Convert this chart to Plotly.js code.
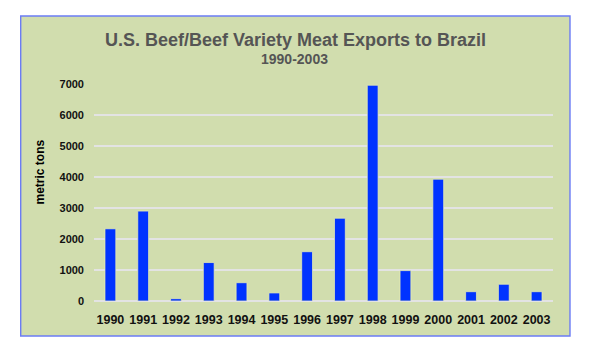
<!DOCTYPE html>
<html>
<head>
<meta charset="utf-8">
<script src="https://cdn.plot.ly/plotly-3.0.1.min.js"></script>
<style>html,body{margin:0;padding:0;background:#fff;}#chart{width:595px;height:362px;}</style>
</head>
<body>
<div id="chart"></div>
<script>
const years = ['1990','1991','1992','1993','1994','1995','1996','1997','1998','1999','2000','2001','2002','2003'];
const exportsTons = [2330, 2900, 75, 1240, 590, 260, 1590, 2670, 6960, 980, 3930, 300, 540, 300];
const yTicks = [0, 1000, 2000, 3000, 4000, 5000, 6000, 7000];

const W = 595, H = 362;
const M = {l: 94, r: 42, t: 84, b: 61};
const pw = W - M.l - M.r, ph = H - M.t - M.b;
const px = x => (x - M.l) / pw;
const py = y => (H - M.b - y) / ph;

// choose a narrow font for x labels if available
function hasFont(name) {
  const c = document.createElement('canvas').getContext('2d');
  c.font = 'bold 40px monospace';
  const a = c.measureText('1990 abcmwi').width;
  c.font = 'bold 40px "' + name + '", monospace';
  const b = c.measureText('1990 abcmwi').width;
  return Math.abs(a - b) > 0.5;
}
const narrow = hasFont('Liberation Sans Narrow');
const xFont = narrow
  ? {family: '"Liberation Sans Narrow", sans-serif', size: 15, color: '#111', weight: 'bold'}
  : {family: 'Liberation Sans, Arial, sans-serif', size: 12.5, color: '#111', weight: 'bold'};

const trace = {
  type: 'bar',
  x: years,
  y: exportsTons,
  marker: {color: '#0033ff', line: {color: 'rgba(235,240,180,0.9)', width: 0.8}},
  hoverinfo: 'x+y'
};

const layout = {
  width: W, height: H,
  margin: M,
  paper_bgcolor: '#ffffff',
  plot_bgcolor: 'rgba(0,0,0,0)',
  showlegend: false,
  bargap: 0.67,
  font: {family: 'Liberation Sans, Arial, sans-serif', color: '#000'},
  xaxis: {
    type: 'category',
    showgrid: false, zeroline: false, showline: false,
    ticks: '',
    tickangle: 0,
    ticklabelstandoff: 9,
    tickfont: xFont
  },
  yaxis: {
    range: [0, 7000],
    tickvals: yTicks,
    ticktext: yTicks.map(String),
    showgrid: true, gridcolor: '#e3e3e3', gridwidth: 1.3,
    zeroline: true, zerolinecolor: '#e3e3e3', zerolinewidth: 1.3,
    showline: false, ticks: '',
    ticklabelstandoff: 9,
    tickfont: {family: 'Liberation Sans, Arial, sans-serif', size: 11, color: '#111', weight: 'bold'}
  },
  shapes: [{
    type: 'rect', xref: 'paper', yref: 'paper', layer: 'below',
    x0: px(20.7), x1: px(570), y0: py(336), y1: py(16),
    fillcolor: '#d1ddae',
    line: {color: '#6b7cf5', width: 1.4}
  }],
  annotations: [
    {text: 'U.S. Beef/Beef Variety Meat Exports to Brazil', xref: 'paper', yref: 'paper',
     x: px(295), y: py(39.5), xanchor: 'center', yanchor: 'middle', showarrow: false,
     font: {family: 'Liberation Sans, Arial, sans-serif', size: 18, color: '#555555', weight: 'bold'}},
    {text: '1990-2003', xref: 'paper', yref: 'paper',
     x: px(294), y: py(58.5), xanchor: 'center', yanchor: 'middle', showarrow: false,
     font: {family: 'Liberation Sans, Arial, sans-serif', size: 14, color: '#555555', weight: 'bold'}},
    {text: 'metric tons', xref: 'paper', yref: 'paper', textangle: -90,
     x: px(39.5), y: py(172), xanchor: 'center', yanchor: 'middle', showarrow: false,
     font: {family: 'Liberation Sans, Arial, sans-serif', size: 12, color: '#000', weight: 'bold'}}
  ]
};

Plotly.newPlot('chart', [trace], layout, {displayModeBar: false, staticPlot: true});
</script>
</body>
</html>
